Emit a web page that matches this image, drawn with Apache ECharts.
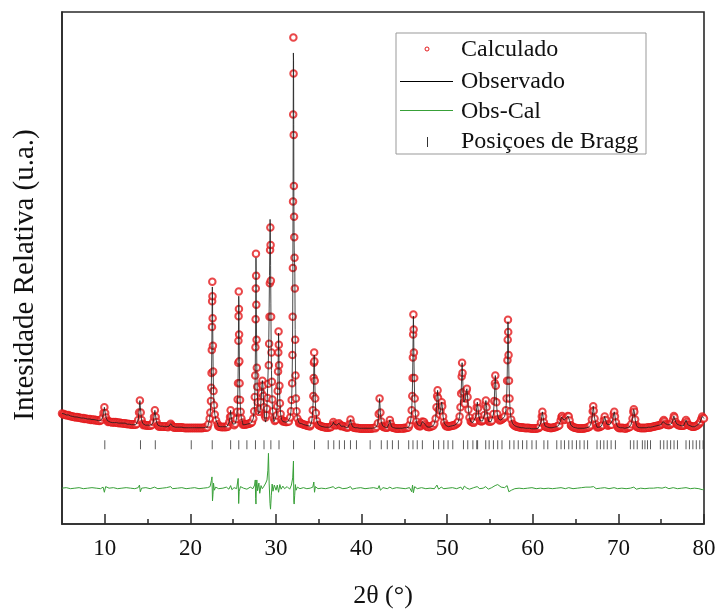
<!DOCTYPE html>
<html>
<head>
<meta charset="utf-8">
<script src="https://cdn.jsdelivr.net/npm/echarts@6/dist/echarts.min.js"></script>
<style>html,body{margin:0;padding:0;background:#fff}#c{width:719px;height:614px}</style>
</head>
<body>
<div id="c"></div>
<script>
// ---- data (2θ in degrees, intensity in relative units) ----
// background intensity sampled every 0.125° from 5° to 80° (one row per degree)
const bgStart = 5, bgStep = 0.125;
const background = [
21.6,21.4,21.5,21.3,21.3,21.2,21.3,21.1,
21.1,21.0,21.0,20.9,20.9,20.8,20.9,20.8,
20.8,20.7,20.7,20.6,20.7,20.5,20.6,20.5,
20.5,20.4,20.5,20.3,20.4,20.3,20.4,20.2,
20.3,20.2,20.2,20.1,20.2,20.1,20.1,20.0,
20.1,20.0,20.0,19.9,20.0,19.9,19.9,19.8,
19.9,19.8,19.9,19.8,19.8,19.7,19.8,19.7,
19.7,19.7,19.6,19.7,19.6,19.5,19.6,19.5,
19.5,19.4,19.5,19.4,19.5,19.4,19.4,19.3,
19.4,19.3,19.4,19.3,19.3,19.4,19.3,19.2,
19.3,19.2,19.3,19.2,19.2,19.1,19.2,19.1,
19.2,19.1,19.1,19.0,19.1,19.0,19.1,19.0,
19.0,19.1,19.0,18.9,19.0,18.9,19.0,18.9,
18.9,18.8,18.9,18.8,18.9,18.8,18.9,18.8,
18.9,18.8,18.8,18.7,18.8,18.7,18.8,18.7,
18.8,18.7,18.8,18.7,18.8,18.7,18.8,18.7,
18.8,18.7,18.8,18.7,18.8,18.8,18.9,18.8,
18.9,18.9,19.0,19.0,19.2,19.3,19.5,19.6,
19.3,19.2,19.1,19.0,19.0,18.9,19.0,18.9,
19.0,18.9,19.0,19.0,19.1,19.1,19.2,19.2,
19.4,19.3,19.4,19.3,19.3,19.2,19.3,19.3,
19.4,19.4,19.5,19.4,19.5,19.5,19.6,19.6,
19.7,19.8,19.9,20.0,20.1,20.3,20.5,20.8,
21.2,21.4,21.6,21.4,21.0,20.8,20.5,20.4,
20.2,20.4,20.6,20.8,21.0,20.9,20.8,20.6,
20.4,20.3,20.2,20.4,20.6,20.5,20.3,20.1,
20.0,19.9,19.9,20.0,20.0,20.1,20.3,20.6,
21.0,20.8,20.6,20.4,20.2,20.0,19.9,19.7,
19.6,19.5,19.4,19.4,19.3,19.2,19.2,19.1,
19.1,19.0,19.1,19.1,19.3,19.4,19.6,19.5,
19.3,19.2,19.1,19.0,19.0,18.9,18.9,18.8,
18.9,18.8,18.9,18.9,19.0,19.0,19.1,19.0,
19.1,19.0,19.0,19.1,19.1,19.2,19.2,19.1,
19.0,18.9,18.9,18.8,18.9,19.0,19.1,19.0,
18.9,18.8,18.8,18.7,18.8,18.7,18.7,18.6,
18.7,18.6,18.7,18.6,18.7,18.6,18.7,18.6,
18.7,18.6,18.7,18.7,18.8,18.7,18.8,18.8,
18.9,18.9,19.0,19.0,19.0,18.9,18.9,18.8,
18.8,18.8,18.9,18.9,18.9,18.8,18.8,18.7,
18.7,18.6,18.7,18.6,18.7,18.7,18.7,18.6,
18.8,18.7,18.8,18.8,18.9,19.0,19.1,19.2,
19.5,19.4,19.4,19.3,19.2,19.2,19.1,19.1,
19.2,19.1,19.2,19.1,19.1,19.0,19.0,18.9,
19.1,19.0,19.2,19.2,19.4,19.5,19.8,20.0,
20.2,20.0,19.8,19.6,19.4,19.3,19.2,19.1,
19.1,19.0,19.1,19.1,19.2,19.2,19.3,19.3,
19.5,19.6,19.8,20.0,20.2,20.5,20.8,21.1,
21.4,21.2,21.0,20.7,20.4,20.2,20.0,19.9,
19.8,19.8,19.9,20.0,20.2,20.2,20.2,20.1,
20.0,20.1,20.2,20.3,20.4,20.4,20.3,20.2,
20.0,20.0,20.1,20.3,20.5,20.4,20.3,20.2,
20.2,20.2,20.3,20.4,20.6,20.7,20.9,21.1,
21.5,21.0,20.6,20.2,19.9,19.6,19.4,19.2,
19.1,19.0,19.0,18.9,18.9,18.8,18.9,18.8,
18.8,18.7,18.8,18.7,18.8,18.7,18.7,18.6,
18.7,18.6,18.7,18.6,18.7,18.7,18.8,18.8,
18.9,19.0,19.1,19.0,19.0,18.9,18.9,18.8,
18.8,18.7,18.8,18.8,18.9,18.9,19.0,19.1,
19.2,19.3,19.5,19.6,19.6,19.7,19.7,19.8,
19.8,19.7,19.6,19.4,19.2,19.0,18.9,18.8,
18.8,18.7,18.7,18.6,18.7,18.6,18.7,18.6,
18.7,18.7,18.8,18.8,18.9,19.0,19.2,19.3,
19.5,19.3,19.2,19.0,18.9,18.9,18.9,19.0,
19.1,19.3,19.5,19.4,19.2,19.2,19.2,19.3,
19.4,19.5,19.5,19.3,19.1,19.0,18.9,18.8,
18.8,18.7,18.8,18.7,18.8,18.7,18.7,18.6,
18.8,18.8,18.9,19.0,19.2,19.3,19.4,19.3,
19.1,19.0,18.9,18.8,18.8,18.7,18.8,18.7,
18.8,18.7,18.8,18.8,18.9,18.8,18.9,18.9,
19.0,19.0,19.1,19.1,19.2,19.2,19.3,19.3,
19.4,19.5,19.6,19.6,19.5,19.4,19.4,19.3,
19.4,19.5,19.6,19.7,19.8,19.7,19.6,19.5,
19.3,19.3,19.2,19.2,19.2,19.2,19.3,19.3,
19.5,19.4,19.3,19.2,19.1,19.0,19.0,19.0,
19.1,19.2,19.3,19.5,19.7,19.9,20.2,20.3,
20.4
];

// peak profiles: [2θ, calculated, observed (if different)]
const peaks = [
[[9.6,20.3],[9.75,20.8],[9.85,21.7],[9.95,22.8],[10.05,21.7],[10.15,20.8],[10.3,20.2]],
[[13.75,19.6],[13.9,20.3],[14.0,21.8],[14.1,24.1],[14.2,21.8],[14.3,20.3],[14.45,19.6]],
[[15.5,19.4],[15.65,19.9],[15.75,20.9],[15.85,22.2],[15.95,20.9],[16.05,19.9],[16.2,19.3]],
[[17.5,19.1],[17.6,19.3],[17.7,19.6],[17.8,19.3],[17.9,19.1]],
[[22.1,19.5],[22.25,20.6],[22.33,21.8],[22.4,24.0],[22.44,26.6],[22.47,29.5],[22.5,34.0],[22.52,38.5],[22.54,43.5],[22.56,47.3,46.3],[22.58,44.5,45.0],[22.6,40.2],[22.63,34.8],[22.66,29.8],[22.7,26.0],[22.76,23.2],[22.85,21.4],[23.0,20.2],[23.2,19.5]],
[[24.4,19.3],[24.55,19.9],[24.63,20.9],[24.7,22.2],[24.77,21.0],[24.85,20.0],[25.0,19.5]],
[[25.25,19.6],[25.38,20.5],[25.46,21.9],[25.52,24.3],[25.56,27.5],[25.59,31.5],[25.61,35.8],[25.63,40.6],[25.65,45.4,44.5],[25.67,42.0,42.8],[25.69,37.0],[25.72,31.8],[25.75,27.5],[25.8,24.2],[25.87,21.9],[25.96,20.6],[26.1,19.8]],
[[27.2,19.9],[27.35,20.6],[27.45,22.0],[27.52,24.8],[27.57,29.0],[27.6,34.5],[27.62,40.0],[27.64,46.0],[27.66,52.8,52.0],[27.68,48.5,49.3],[27.7,42.8],[27.73,36.0],[27.76,30.5],[27.8,26.8],[27.86,23.8],[27.94,22.2,21.5],[28.02,21.9,21.2],[28.12,22.5,22.0],[28.22,23.8,23.4],[28.3,25.6,25.4],[28.36,27.2],[28.41,28.0],[28.46,27.0,27.3],[28.52,25.0],[28.6,22.8,22.3],[28.7,21.2,20.4],[28.78,20.8,19.9],[28.86,21.3,20.6],[28.94,22.5,22.8],[29.02,24.6,26.5],[29.1,27.4,31.0],[29.16,31.0,36.5],[29.2,35.2,42.0],[29.24,40.5,48.5],[29.28,47.0,55.0],[29.31,53.5,59.5],[29.34,57.9,57.0],[29.37,54.5,50.5],[29.4,47.5,43.0],[29.43,40.5,36.0],[29.47,33.5,30.0],[29.52,27.8,25.5],[29.58,24.3,22.8],[29.66,22.0,21.2],[29.76,20.6,20.0],[29.86,20.1,19.9],[29.96,20.3],[30.06,21.2],[30.14,23.0],[30.2,26.0],[30.24,29.8],[30.27,33.5],[30.3,37.6,37.3],[30.33,35.0],[30.36,31.0],[30.4,27.0],[30.46,23.6],[30.54,21.5],[30.65,20.4],[30.8,20.0]],
[[31.5,20.0],[31.65,20.8],[31.75,22.0],[31.83,24.2],[31.88,27.5],[31.92,33.0],[31.95,40.5],[31.97,50.0],[31.99,63.0],[32.01,80.0],[32.03,95.0,92.0],[32.05,88.0,90.5],[32.07,76.0,78.0],[32.09,66.0,64.0],[32.11,60.0,57.0],[32.13,56.0,53.5],[32.16,52.0,51.5],[32.2,46.0,49.0],[32.24,36.0,38.0],[32.28,29.0],[32.33,24.5],[32.4,22.0],[32.5,20.6],[32.7,19.7]],
[[34.05,19.4],[34.2,20.3],[34.3,22.2],[34.36,25.0],[34.4,28.5],[34.43,31.5],[34.46,33.5,33.0],[34.49,31.8],[34.53,28.0],[34.58,24.5],[34.66,21.7],[34.78,20.1],[34.95,19.4]],
[[36.45,19.0],[36.6,19.4],[36.7,19.9],[36.8,19.5],[36.95,19.3],[37.1,19.3],[37.25,19.4],[37.35,19.7],[37.45,19.4],[37.6,19.1]],
[[38.45,19.0],[38.6,19.6],[38.7,20.4],[38.8,19.6],[38.95,19.0]],
[[41.75,19.0],[41.9,19.7],[42.0,21.5],[42.1,24.5],[42.2,21.8],[42.3,20.0],[42.45,19.2]],
[[43.1,19.0],[43.2,19.6],[43.3,20.3],[43.4,19.6],[43.5,19.0]],
[[45.6,19.4],[45.75,20.3],[45.85,22.2],[45.92,25.0],[45.96,28.5],[45.99,32.5],[46.02,37.0],[46.05,40.9,40.6],[46.08,38.0],[46.11,33.5],[46.15,28.5],[46.2,24.5],[46.28,21.6],[46.4,20.0],[46.55,19.4]],
[[46.9,19.3],[47.0,19.6],[47.1,20.0],[47.2,19.8],[47.3,19.9],[47.4,19.5],[47.55,19.2]],
[[48.5,19.6],[48.65,20.6],[48.75,22.8],[48.82,25.0],[48.88,26.1],[48.94,24.6],[49.02,22.3],[49.12,21.4],[49.22,22.1],[49.3,23.2],[49.36,23.8],[49.42,23.0],[49.52,21.0],[49.65,19.8],[49.8,19.3]],
[[51.3,20.0],[51.45,21.0],[51.55,22.8],[51.63,25.5],[51.69,28.8],[51.74,31.5],[51.79,29.5],[51.86,25.8],[51.95,23.8],[52.05,23.5],[52.15,24.5],[52.23,26.0],[52.3,26.4],[52.38,24.8],[52.48,22.3],[52.6,20.8],[52.75,20.0]],
[[53.2,20.1],[53.35,21.0],[53.45,22.8],[53.52,23.8],[53.6,22.6],[53.7,21.0],[53.85,20.2]],
[[54.2,20.3],[54.35,21.3],[54.45,23.3],[54.52,24.1],[54.6,22.8],[54.7,21.0],[54.85,20.0]],
[[55.25,20.2],[55.4,21.5],[55.5,24.0],[55.57,27.5],[55.62,29.0],[55.68,27.0],[55.75,23.8],[55.85,21.5],[56.0,20.5]],
[[56.7,21.0],[56.85,22.2],[56.94,24.5],[57.0,28.0],[57.04,32.0],[57.07,36.0],[57.1,39.9,39.5],[57.13,37.5],[57.17,33.0],[57.22,28.0],[57.28,24.5],[57.36,22.0],[57.48,20.4],[57.65,19.6]],
[[60.8,19.0],[60.95,19.8],[61.05,21.0],[61.12,21.9],[61.2,21.0],[61.3,19.8],[61.45,19.1]],
[[63.1,19.3],[63.25,20.2],[63.35,20.9],[63.42,21.1],[63.5,20.7],[63.65,20.3],[63.8,20.4],[63.95,20.7],[64.1,21.1],[64.2,21.0],[64.3,20.2],[64.45,19.3]],
[[66.75,19.3],[66.9,20.4],[67.0,22.0],[67.06,23.0],[67.12,22.1],[67.22,20.6],[67.4,19.4]],
[[68.15,19.3],[68.3,20.3],[68.4,21.0],[68.5,20.3],[68.65,19.5]],
[[69.2,19.4],[69.35,20.4],[69.45,21.5],[69.52,21.9],[69.6,21.0],[69.72,19.8],[69.9,19.0]],
[[71.5,19.5],[71.65,20.6],[71.74,21.9],[71.8,22.4],[71.86,21.9],[71.96,20.4],[72.1,19.3]],
[[75.1,19.6],[75.2,20.0],[75.3,20.3],[75.4,20.0],[75.5,19.6]],
[[76.25,19.7],[76.38,20.4],[76.48,21.1],[76.56,20.8],[76.7,19.9],[76.85,19.5]],
[[77.7,19.4],[77.8,19.9],[77.9,20.3],[78.0,19.9],[78.1,19.4]],
[[79.55,19.9],[79.68,20.5],[79.8,21.0],[79.9,20.7],[80.0,20.6]]
];

// difference curve (Obs-Cal, drawn with its offset)
const obsMinusCal = [
[5,7.0],[5.5,7.1],[6,6.9],[6.5,7.0],[7,7.1],[7.5,6.9],[8,7.0],[8.5,7.1],[9,7.0],[9.5,6.9],[9.8,7.2],[9.95,6.2],[10.1,7.3],[10.5,7.0],
[11,7.1],[11.5,6.9],[12,7.0],[12.5,7.1],[13,7.0],[13.5,6.9],[13.9,7.1],[14.05,7.6],[14.15,6.3],[14.3,7.0],[14.8,7.1],[15.3,6.9],[15.8,7.2],
[16.2,6.9],[16.7,7.0],[17.2,7.1],[17.7,7.3],[17.9,6.9],[18.5,7.0],[19,7.1],[19.5,6.9],[20,7.0],[20.5,7.1],[21,6.9],[21.5,7.0],[22,7.1],
[22.3,7.3],[22.45,8.5],[22.52,9.2],[22.58,4.5],[22.64,5.8],[22.7,8.0],[22.8,6.6],[22.95,7.2],[23.3,6.9],[23.8,7.0],[24.2,7.2],[24.5,6.8],
[24.7,7.5],[24.85,6.7],[25.1,7.1],[25.4,6.9],[25.58,8.9],[25.64,4.0],[25.7,6.4],[25.85,7.3],[26.2,7.0],[26.6,6.8],[27.0,7.2],[27.3,6.9],
[27.5,7.6],[27.58,8.6],[27.62,5.0],[27.66,3.9],[27.7,7.0],[27.76,8.6],[27.85,6.5],[28.0,8.0],[28.1,6.0],[28.25,7.5],[28.4,6.9],[28.6,7.4],
[28.8,8.0],[28.95,8.6],[29.05,10.5],[29.12,13.8],[29.2,8.0],[29.3,4.0],[29.36,2.9],[29.45,5.5],[29.55,7.8],[29.65,6.4],[29.8,7.6],[30.0,6.6],
[30.15,7.6],[30.3,6.2],[30.45,7.7],[30.6,6.8],[30.8,7.4],[31.0,6.9],[31.3,7.3],[31.6,6.8],[31.8,7.6],[31.95,9.0],[32.04,12.3],[32.08,4.5],
[32.12,3.9],[32.18,5.5],[32.26,7.7],[32.35,6.6],[32.5,7.2],[32.8,6.9],[33.2,7.1],[33.6,6.9],[34.0,7.0],[34.3,7.2],[34.42,8.2],[34.5,6.2],
[34.6,7.3],[34.9,6.9],[35.3,7.0],[35.8,6.9],[36.3,7.1],[36.7,7.3],[36.9,6.9],[37.35,7.2],[37.8,6.9],[38.3,7.0],[38.7,7.3],[38.9,6.8],
[39.4,7.0],[39.9,7.1],[40.4,6.9],[40.9,7.0],[41.4,7.1],[41.9,6.9],[42.05,7.5],[42.2,6.6],[42.5,7.1],[43.0,6.9],[43.3,7.2],[43.6,6.9],
[44.1,7.1],[44.6,7.0],[45.1,6.9],[45.6,7.1],[45.85,6.3],[45.95,7.6],[46.05,6.1],[46.2,7.3],[46.5,6.9],[47.0,7.1],[47.5,6.9],[48.0,7.0],
[48.5,6.9],[48.8,7.6],[49.0,6.8],[49.3,7.2],[49.6,6.9],[50.1,7.0],[50.6,7.1],[51.1,6.9],[51.6,7.2],[51.8,6.7],[52.0,7.4],[52.3,7.0],
[52.6,6.8],[53.1,7.1],[53.5,7.3],[53.8,6.9],[54.2,7.0],[54.5,7.3],[54.8,6.8],[55.2,7.1],[55.6,7.5],[55.9,7.7],[56.3,7.2],[56.7,7.1],
[57.0,7.5],[57.2,6.3],[57.5,6.6],[57.9,6.9],[58.4,7.0],[58.9,6.9],[59.4,7.0],[59.9,7.1],[60.4,6.9],[60.9,7.0],[61.1,7.3],[61.3,6.9],
[61.8,7.0],[62.3,6.9],[62.8,7.0],[63.3,7.1],[63.8,6.9],[64.2,7.1],[64.7,6.9],[65.2,7.0],[65.7,7.1],[66.2,7.2],[66.7,7.2],[67.1,7.3],
[67.4,6.9],[67.9,7.0],[68.4,7.1],[68.9,6.9],[69.5,7.1],[69.9,6.9],[70.4,7.0],[70.9,6.9],[71.4,7.0],[71.8,7.2],[72.1,6.8],[72.6,7.0],
[73.1,6.9],[73.6,7.0],[74.1,7.0],[74.6,7.1],[75.1,7.0],[75.5,7.2],[75.9,6.9],[76.4,7.1],[76.9,6.9],[77.4,7.0],[77.9,7.1],[78.4,6.9],
[78.9,7.0],[79.4,6.9],[79.8,6.7],[80,6.9]
];

// Bragg reflection positions (2θ) and the level where their marks are drawn
const braggPositions = [
10.0,14.17,15.9,20.1,22.55,24.7,25.65,26.6,27.6,28.6,29.4,30.35,32.05,34.5,36.1,36.75,37.4,38.0,38.7,39.4,
41.0,42.3,43.0,43.6,44.3,45.5,46.0,46.5,47.1,48.4,49.0,49.6,50.1,50.65,51.9,52.4,53.0,53.45,53.55,54.5,
54.9,55.4,55.9,56.4,57.3,57.8,58.3,58.8,59.3,59.9,60.4,61.3,61.75,62.8,63.3,63.7,64.2,64.6,65.1,65.5,
66.0,66.4,67.5,67.9,68.3,68.7,69.15,69.65,71.4,71.8,72.2,72.8,73.1,73.4,73.75,74.9,75.3,75.7,76.1,76.5,
76.9,77.9,78.3,78.7,79.1,79.5,79.9
];
const braggLevel = 15.5;

const majorTicks = [10,20,30,40,50,60,70,80];
const minorTicks = [15,25,35,45,55,65,75];
const legendLabels = ['Calculado','Observado','Obs-Cal','Posiçoes de Bragg'];

// ---- assemble profile ----
const spans = peaks.map(g => [g[0][0], g[g.length-1][0]]);
const pts = [];
background.forEach((v, i) => {
  const x = +(bgStart + i * bgStep).toFixed(3);
  if (!spans.some(s => x >= s[0] && x <= s[1])) pts.push([x, v, v]);
});
peaks.forEach(g => g.forEach(p => pts.push([p[0], p[1], p.length > 2 ? p[2] : p[1]])));
pts.sort((a, b) => a[0] - b[0]);
const calcData = pts.map(p => [p[0], p[1]]);
const obsData = pts.map(p => [p[0], p[2]]);
const braggData = braggPositions.map(x => [x, braggLevel]);

const serif = 'Liberation Serif';
const red = '#e3191c';
const green = '#38a038';
const chart = echarts.init(document.getElementById('c'), null, {renderer: 'canvas'});
chart.setOption({
  animation: false,
  backgroundColor: '#fff',
  grid: {left: 62, right: 15, top: 12, bottom: 84, show: true, borderColor: '#2a2a2a', borderWidth: 1.6},
  xAxis: [{
    type: 'value', min: 5, max: 80,
    name: '2θ (°)', nameLocation: 'middle', nameGap: 59,
    nameTextStyle: {fontFamily: serif, fontSize: 26, color: '#111'},
    axisLine: {show: true, lineStyle: {color: '#2a2a2a', width: 1.6}},
    axisTick: {show: true, inside: true, length: 10, lineStyle: {color: '#2a2a2a', width: 1.5}, customValues: majorTicks},
    axisLabel: {show: true, margin: 13, fontFamily: serif, fontSize: 23, color: '#111', customValues: majorTicks},
    splitLine: {show: false}
  }, {
    type: 'value', min: 5, max: 80, position: 'bottom',
    axisLine: {show: false},
    axisTick: {show: true, inside: true, length: 5, lineStyle: {color: '#2a2a2a', width: 1.5}, customValues: minorTicks},
    axisLabel: {show: false},
    splitLine: {show: false}
  }],
  yAxis: {
    type: 'value', min: 0, max: 100,
    name: 'Intesidade Relativa (u.a.)', nameLocation: 'middle', nameGap: 22,
    nameTextStyle: {fontFamily: serif, fontSize: 29, color: '#111', padding: [0, 14, 0, 0]},
    axisLine: {show: true, lineStyle: {color: '#2a2a2a', width: 1.6}},
    axisTick: {show: false}, axisLabel: {show: false}, splitLine: {show: false}
  },
  series: [
    {name: legendLabels[0], type: 'scatter', data: calcData, symbol: 'emptyCircle', symbolSize: 6.5,
     itemStyle: {color: red, borderColor: red, borderWidth: 1}, z: 2},
    {name: legendLabels[1], type: 'line', data: obsData, showSymbol: false, symbol: 'none',
     lineStyle: {color: '#1a1a1a', width: 0.8}, z: 3},
    {name: legendLabels[2], type: 'line', data: obsMinusCal, showSymbol: false, symbol: 'none',
     lineStyle: {color: green, width: 1}, z: 2},
    {name: legendLabels[3], type: 'scatter', data: braggData, symbol: 'rect', symbolSize: [1, 9],
     itemStyle: {color: '#333'}, z: 2}
  ],
  graphic: [
    {type: 'rect', z: 100, shape: {x: 396, y: 33, width: 250, height: 121}, style: {fill: '#fff', stroke: '#999', lineWidth: 1}},
    {type: 'circle', z: 101, shape: {cx: 427, cy: 49, r: 2}, style: {fill: 'none', stroke: red, lineWidth: 1}},
    {type: 'line', z: 101, shape: {x1: 400, y1: 81.5, x2: 453, y2: 81.5}, style: {stroke: '#000', lineWidth: 1}},
    {type: 'line', z: 101, shape: {x1: 400, y1: 110.5, x2: 453, y2: 110.5}, style: {stroke: green, lineWidth: 1}},
    {type: 'line', z: 101, shape: {x1: 427.5, y1: 137, x2: 427.5, y2: 147}, style: {stroke: '#333', lineWidth: 1}},
    {type: 'text', z: 101, x: 461, y: 50, style: {text: legendLabels[0], fontFamily: serif, fontSize: 24, fill: '#111', verticalAlign: 'middle'}},
    {type: 'text', z: 101, x: 461, y: 82, style: {text: legendLabels[1], fontFamily: serif, fontSize: 24, fill: '#111', verticalAlign: 'middle'}},
    {type: 'text', z: 101, x: 461, y: 112, style: {text: legendLabels[2], fontFamily: serif, fontSize: 24, fill: '#111', verticalAlign: 'middle'}},
    {type: 'text', z: 101, x: 461, y: 142, style: {text: legendLabels[3], fontFamily: serif, fontSize: 24, fill: '#111', verticalAlign: 'middle'}}
  ]
});
</script>
</body>
</html>
